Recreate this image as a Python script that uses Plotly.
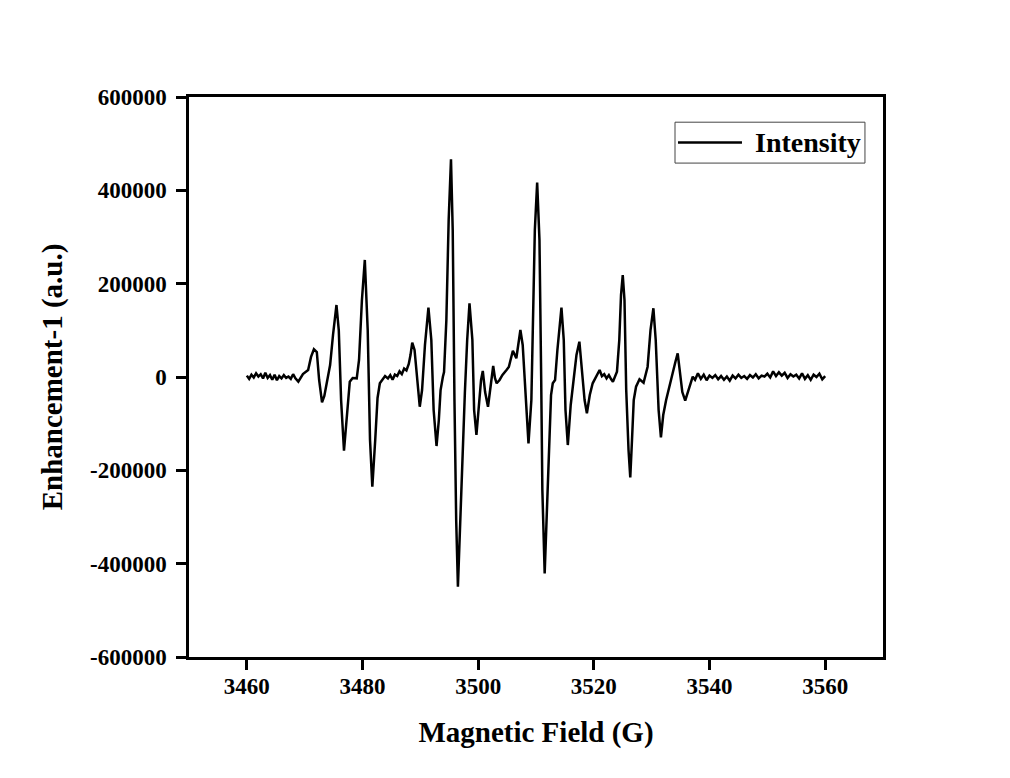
import plotly.graph_objects as go

# Magnetic field (G) and EPR intensity (a.u.)
field_gauss = [
    3460.0, 3460.4, 3460.8, 3461.2, 3461.6, 3462.0, 3462.4, 3462.8, 3463.2, 3463.6,
    3464.0, 3464.4, 3464.8, 3465.2, 3465.6, 3466.0, 3466.4, 3466.8, 3467.2, 3467.6,
    3468.0, 3468.4, 3468.9, 3469.7, 3470.6, 3471.1, 3471.6, 3472.1, 3472.5, 3473.0,
    3473.4, 3473.9, 3474.4, 3474.9, 3475.5, 3475.9, 3476.3, 3476.8, 3477.2, 3477.8,
    3478.3, 3479.0, 3479.4, 3479.9, 3480.4, 3480.9, 3481.3, 3481.7, 3482.2, 3482.6,
    3483.0, 3483.9, 3484.4, 3484.8, 3485.2, 3485.6, 3486.0, 3486.4, 3486.8, 3487.2,
    3487.6, 3488.0, 3488.3, 3488.6, 3489.0, 3489.5, 3489.9, 3490.3, 3490.8, 3491.4,
    3491.9, 3492.3, 3492.8, 3493.2, 3493.5, 3493.9, 3494.1, 3494.5, 3494.9, 3495.3,
    3495.6, 3495.9, 3496.2, 3496.5, 3496.8, 3497.2, 3497.7, 3498.1, 3498.5, 3499.0,
    3499.3, 3499.7, 3500.1, 3500.5, 3500.8, 3501.2, 3501.7, 3502.2, 3502.6, 3502.9,
    3503.2, 3503.7, 3504.2, 3504.9, 3505.3, 3505.6, 3506.0, 3506.6, 3507.0, 3507.3,
    3507.7, 3508.2, 3508.7, 3509.2, 3509.5, 3509.8, 3510.2, 3510.6, 3510.9, 3511.1,
    3511.5, 3511.8, 3512.3, 3512.6, 3512.9, 3513.3, 3513.7, 3514.4, 3514.8, 3515.1,
    3515.5, 3516.0, 3516.5, 3517.0, 3517.5, 3518.0, 3518.4, 3518.8, 3519.3, 3519.8,
    3520.3, 3521.0, 3521.4, 3521.8, 3522.2, 3522.6, 3523.0, 3523.3, 3524.0, 3524.4,
    3524.7, 3525.0, 3525.3, 3525.6, 3526.0, 3526.3, 3526.6, 3526.9, 3527.3, 3527.9,
    3528.6, 3528.9, 3529.3, 3529.8, 3530.3, 3530.7, 3531.2, 3531.6, 3532.0, 3532.5,
    3533.1, 3533.6, 3534.1, 3534.5, 3534.9, 3535.3, 3535.8, 3536.4, 3537.1, 3537.5,
    3538.0, 3538.5, 3539.0, 3539.5, 3540.0, 3540.5, 3541.0, 3541.5, 3542.0, 3542.5,
    3543.0, 3543.5, 3544.0, 3544.5, 3545.0, 3545.5, 3546.0, 3546.5, 3547.0, 3547.5,
    3548.0, 3548.5, 3549.0, 3549.5, 3550.0, 3550.5, 3551.0, 3551.5, 3552.0, 3552.5,
    3553.0, 3553.5, 3554.0, 3554.5, 3555.0, 3555.5, 3556.0, 3556.5, 3557.0, 3557.5,
    3558.0, 3558.5, 3559.0, 3559.5, 3560.0,
]

intensity_au = [
    3000, -4000, 5000, -1000, 8000, 1000, 6000, -3000, 9000, -2000,
    4000, -6000, 5000, -7000, 2000, -3000, 4000, -2000, 1000, -4000,
    6000, -3000, -10000, 6400, 15000, 43000, 59400, 53600, -6400, -54200,
    -40700, -6400, 25700, 90000, 154300, 100000, -49300, -158000, -92200, -10000,
    -2100, -2800, 36400, 165000, 250800, 100700, -135000, -235000, -135000, -45000,
    -13500, 2100, -3000, 4000, -6000, 5000, 2000, 12000, 6000, 18000,
    14000, 28000, 47000, 73500, 57900, -17000, -63700, -27900, 68600, 148500,
    79300, -70700, -147900, -92200, -27900, 600, 10700, 122000, 336500, 466700,
    315100, -49300, -306500, -449500, -349000, -178000, -34300, 79300, 158000, 79300,
    -70700, -124300, -70700, -6400, 12900, -32200, -63700, -17100, 23600, -2100,
    -13500, -6400, 4300, 15000, 21400, 36400, 56400, 40100, 79300, 100700,
    68600, -49300, -142100, -49300, 122200, 315100, 416500, 293700, -6400, -242200,
    -420800, -306500, -135000, -38600, -13500, -6400, 57900, 148500, 79300, -70700,
    -145800, -60000, -6400, 47200, 75700, 15000, -49300, -77800, -38600, -13500,
    -2100, 15000, 2000, 6000, -3000, 4000, -5000, -10000, 11400, 79300,
    175800, 218600, 165000, -27900, -156500, -215000, -135000, -49300, -20800, -4900,
    -12200, 2100, 22100, 100700, 147300, 79300, -70700, -129300, -81500, -49300,
    -17100, 4300, 32200, 50800, 15000, -32200, -50800, -27900, 600, -6000,
    8000, -4000, 5000, -7000, 3000, -2000, 4000, -5000, 2000, -6000,
    1000, -8000, 3000, -3000, 5000, -2000, 2000, -4000, 4000, -1000,
    6000, -3000, 3000, 1000, 7000, -1000, 12000, 2000, 10000, 3000,
    9000, -2000, 6000, 1000, 5000, -3000, 8000, -4000, 4000, -6000,
    5000, 0, 7000, -5000, 2000,
]

series_name = "Intensity"
x_title = "Magnetic Field (G)"
y_title = "Enhancement-1 (a.u.)"
x_ticks = [3460, 3480, 3500, 3520, 3540, 3560]
y_ticks = [-600000, -400000, -200000, 0, 200000, 400000, 600000]

FONT = "Liberation Serif, Times New Roman, serif"

fig = go.Figure()
fig.add_trace(go.Scatter(
    x=field_gauss, y=intensity_au, mode="lines", name=series_name,
    line=dict(color="black", width=2.5), showlegend=False,
))

axis_common = dict(
    showline=True, linecolor="black", linewidth=2.5, mirror=True,
    ticks="outside", ticklen=10, tickwidth=2.5, tickcolor="black",
    showgrid=False, zeroline=False,
    tickfont=dict(family=FONT, size=23, color="black", weight="bold"),
)

fig.update_xaxes(
    range=[3450, 3570], tickvals=x_ticks, ticktext=[str(v) for v in x_ticks],
    ticklabelstandoff=-3,
    title=dict(text=x_title, font=dict(family=FONT, size=29, color="black", weight="bold"), standoff=24),
    **axis_common,
)
fig.update_yaxes(
    range=[-600000, 600000], tickvals=y_ticks, ticktext=[str(v) for v in y_ticks],
    ticklabelstandoff=5,
    title=dict(text=y_title, font=dict(family=FONT, size=29, color="black", weight="bold"), standoff=19),
    **axis_common,
)

# Legend drawn as a framed box with a line sample and label
fig.add_shape(type="rect", xref="paper", yref="paper", x0=0.7003, x1=0.974, y0=0.882, y1=0.955,
              line=dict(color="#444444", width=1), fillcolor="rgba(0,0,0,0)")
fig.add_shape(type="line", xref="paper", yref="paper", x0=0.7046, x1=0.7968, y0=0.9188, y1=0.9188,
              line=dict(color="black", width=2.5))
fig.add_annotation(xref="paper", yref="paper", x=0.8127, y=0.9188, xanchor="left", yanchor="middle",
                   text=series_name, showarrow=False,
                   font=dict(family=FONT, size=28, color="black", weight="bold"))

fig.update_layout(
    width=1010, height=778,
    margin=dict(l=181, r=135, t=89, b=129, autoexpand=False),
    paper_bgcolor="white", plot_bgcolor="white",
    font=dict(family=FONT, color="black"),
)

fig.write_html("out.html")
